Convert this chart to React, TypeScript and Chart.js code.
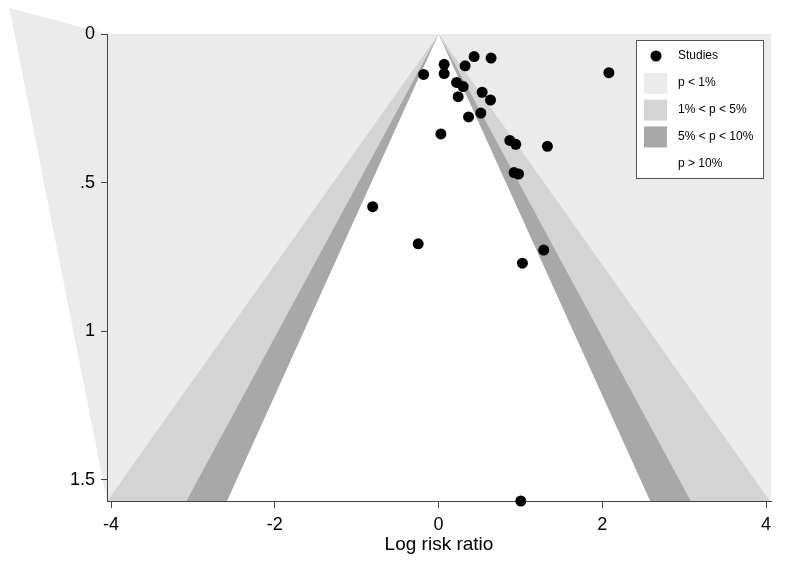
import React, { useEffect, useRef } from "react";
import { Chart, registerables } from "chart.js";

Chart.register(...registerables);

// ---- data ----
const STUDY_X = [-0.183, 0.068, 0.068, 0.434, 0.641, 0.324, 0.22, 0.3, 0.239, 0.532, 0.634, 0.516, 0.366, 0.028, 0.87, 0.943, 1.329, 2.08, 0.922, 0.976, -0.805, -0.249, 1.284, 1.024, 1.004];
const STUDY_SE = [0.136, 0.102, 0.133, 0.076, 0.081, 0.107, 0.163, 0.177, 0.211, 0.196, 0.222, 0.266, 0.279, 0.336, 0.358, 0.371, 0.378, 0.13, 0.466, 0.471, 0.581, 0.706, 0.727, 0.771, 1.571];

const X_MIN = -4.05;
const X_MAX = 4.06;
const Y_MAX = 1.571;
const X_TICKS = [-4, -2, 0, 2, 4];
const Y_TICKS = [0, 0.5, 1, 1.5];
const Y_TICK_LABELS = ["0", ".5", "1", "1.5"];

// z-values of the significance contours: 1%, 5%, 10%
const CONTOUR_Z = [2.576, 1.96, 1.645];
const CONTOUR_COLORS = ["#d4d4d4", "#a8a8a8", "#ffffff"];
const BG_COLOR = "#ebebeb";

const LEGEND_LABELS = ["Studies", "p < 1%", "1% < p < 5%", "5% < p < 10%", "p > 10%"];
const LEGEND_SWATCHES = ["", BG_COLOR, "#d4d4d4", "#a8a8a8", "#ffffff"];

// stray shaded polygon drawn left of the plot region (data coordinates)
const STRAY_X = [-5.243, X_MIN, X_MIN];
const STRAY_Y = [-0.0875, 0, Y_MAX];

const X_TITLE = "Log risk ratio";
const FONT = "'Liberation Sans', Arial, Helvetica, sans-serif";

const strayPlugin = {
  id: "stray",
  beforeDraw(chart: any) {
    const { ctx, scales } = chart;
    const xs = scales.x, ys = scales.y;
    ctx.save();
    ctx.fillStyle = BG_COLOR;
    ctx.beginPath();
    STRAY_X.forEach((v, i) => {
      const px = xs.getPixelForValue(v);
      const py = ys.getPixelForValue(STRAY_Y[i]);
      if (i === 0) ctx.moveTo(px, py);
      else ctx.lineTo(px, py);
    });
    ctx.closePath();
    ctx.fill();
    ctx.restore();
  },
};

const legendPlugin = {
  id: "customLegend",
  afterDraw(chart: any) {
    const { ctx, chartArea } = chart;
    const w = 128;
    const h = 139;
    const x0 = chartArea.right - 7 - w;
    const y0 = chartArea.top + 6;
    ctx.save();
    ctx.fillStyle = "#ffffff";
    ctx.fillRect(x0, y0, w, h);
    ctx.strokeStyle = "#555555";
    ctx.lineWidth = 1;
    ctx.strokeRect(x0 + 0.5, y0 + 0.5, w - 1, h - 1);
    ctx.font = `12px ${FONT}`;
    ctx.textBaseline = "middle";
    ctx.textAlign = "left";
    LEGEND_LABELS.forEach((label, i) => {
      const cy = y0 + 16 + i * 26.8;
      if (i === 0) {
        ctx.fillStyle = "#000";
        ctx.beginPath();
        ctx.arc(x0 + 20, cy, 5.5, 0, Math.PI * 2);
        ctx.fill();
      } else {
        ctx.fillStyle = LEGEND_SWATCHES[i];
        ctx.fillRect(x0 + 8, cy - 10, 23, 21);
      }
      ctx.fillStyle = "#000";
      ctx.fillText(label, x0 + 42, cy);
    });
    ctx.restore();
  },
};

export default function App() {
  const ref = useRef<HTMLCanvasElement | null>(null);

  useEffect(() => {
    if (!ref.current) return;
    const funnel = (z: number) => [
      { x: -z * Y_MAX, y: Y_MAX },
      { x: 0, y: 0 },
      { x: z * Y_MAX, y: Y_MAX },
    ];
    const datasets: any[] = [
      {
        type: "scatter",
        data: STUDY_X.map((x, i) => ({ x, y: STUDY_SE[i] })),
        backgroundColor: "#000",
        borderColor: "#000",
        pointRadius: 5.5,
        pointHoverRadius: 5.5,
        borderWidth: 0,
        clip: false,
        order: 0,
      },
      ...CONTOUR_Z.map((z, i) => ({
        type: "line",
        data: funnel(z),
        borderWidth: 0,
        borderColor: CONTOUR_COLORS[i],
        backgroundColor: CONTOUR_COLORS[i],
        pointRadius: 0,
        fill: { value: Y_MAX },
        tension: 0,
        order: 3 - i,
      })),
      {
        type: "line",
        data: [
          { x: X_MIN, y: 0 },
          { x: X_MAX, y: 0 },
        ],
        borderWidth: 0,
        borderColor: BG_COLOR,
        backgroundColor: BG_COLOR,
        pointRadius: 0,
        fill: { value: Y_MAX },
        order: 5,
      },
    ];

    const tickFont = { family: FONT, size: 18 };
    const chart = new Chart(ref.current, {
      type: "scatter",
      data: { datasets },
      plugins: [strayPlugin, legendPlugin],
      options: {
        animation: false,
        responsive: false,
        layout: { padding: { top: 34, right: 29, left: 0, bottom: 23 } },
        plugins: { legend: { display: false }, tooltip: { enabled: false } },
        scales: {
          x: {
            type: "linear",
            min: X_MIN,
            max: X_MAX,
            afterBuildTicks: (s: any) => {
              s.ticks = X_TICKS.map((v) => ({ value: v }));
            },
            afterFit: (s: any) => {
              s.height = 55;
            },
            ticks: {
              font: tickFont,
              color: "#000",
              padding: 6,
              maxRotation: 0,
              autoSkip: false,
              callback: (v: any) => String(v),
            },
            grid: { display: true, drawOnChartArea: false, drawTicks: true, tickLength: 7, color: "#444" },
            border: { display: true, color: "#444", width: 1 },
            title: { display: true, text: X_TITLE, font: { family: FONT, size: 19 }, color: "#000", padding: { top: 0, bottom: 0 } },
          },
          y: {
            type: "linear",
            reverse: true,
            min: 0,
            max: Y_MAX,
            afterBuildTicks: (s: any) => {
              s.ticks = Y_TICKS.map((v) => ({ value: v }));
            },
            afterFit: (s: any) => {
              s.width = 107;
            },
            ticks: {
              font: tickFont,
              color: "#000",
              padding: 6,
              autoSkip: false,
              callback: (v: any) => {
                const i = Y_TICKS.indexOf(Number(v));
                return i >= 0 ? Y_TICK_LABELS[i] : "";
              },
            },
            grid: { display: true, drawOnChartArea: false, drawTicks: true, tickLength: 6, color: "#444" },
            border: { display: true, color: "#444", width: 1, z: 1 },
          },
        },
      } as any,
    });
    return () => chart.destroy();
  }, []);

  return (
    <div style={{ position: "absolute", left: 0, top: 0, width: 800, height: 579, background: "#fff" }}>
      <canvas ref={ref} width={800} height={579} style={{ display: "block", width: 800, height: 579 }} />
    </div>
  );
}
